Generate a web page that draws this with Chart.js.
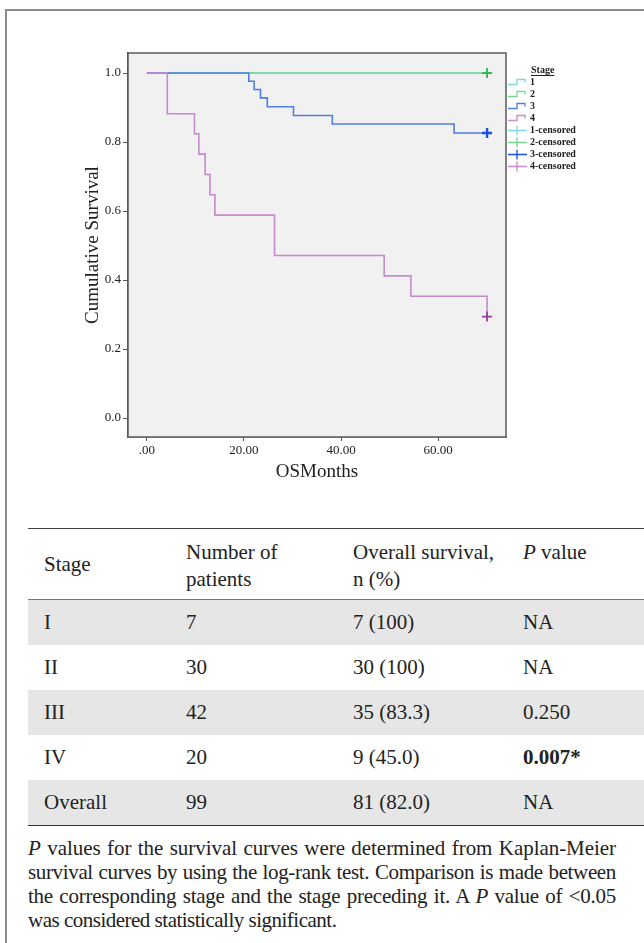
<!DOCTYPE html>
<html>
<head>
<meta charset="utf-8">
<script src="https://cdn.jsdelivr.net/npm/chart.js@4.4.1/dist/chart.umd.min.js"></script>
<style>
body { margin: 0; background: #fff; font-family: 'Liberation Serif', 'Times New Roman', serif; color: #222; }
#frame { position: absolute; left: 5px; top: 9px; width: 700px; height: 1000px;
         border-left: 2px solid #8c8c8c; border-top: 2px solid #8c8c8c; }
#km { position: absolute; left: 0; top: 0; }
table { position: absolute; left: 28px; top: 528px; width: 616px; border-collapse: collapse;
        font-size: 21px; table-layout: fixed; }
thead tr { border-top: 1.5px solid #444; border-bottom: 1px solid #777; }
tbody tr:last-child { border-bottom: 1.5px solid #333; }
th { font-weight: normal; text-align: left; padding: 10px 0 0 16px; vertical-align: top;
     height: 60px; line-height: 27px; }
th.mid { vertical-align: middle; padding-top: 0; }
td { height: 45px; padding: 0 0 0 16px; vertical-align: middle; }
tr.shade td { background: #e6e6e6; }
#note { position: absolute; left: 28px; top: 836px; width: 588px; font-size: 21px; line-height: 24px; }
#note div { text-align: justify; text-align-last: justify; white-space: nowrap; }
#note div.last { text-align-last: left; }
</style>
</head>
<body>
<div id="frame"></div>
<canvas id="km" width="644" height="500"></canvas>

<table>
  <colgroup><col style="width:142px"><col style="width:167px"><col style="width:170px"><col style="width:137px"></colgroup>
  <thead id="thead"></thead>
  <tbody id="tbody"></tbody>
</table>

<div id="note">
  <div style="letter-spacing:-0.05px"><i>P</i> values for the survival curves were determined from Kaplan-Meier</div>
  <div style="letter-spacing:-0.35px; word-spacing:-1px">survival curves by using the log-rank test. Comparison is made between</div>
  <div style="letter-spacing:-0.25px; word-spacing:-1px">the corresponding stage and the stage preceding it. A <i>P</i> value of &lt;0.05</div>
  <div class="last" style="letter-spacing:-0.5px">was considered statistically significant.</div>
</div>

<script>
// Kaplan-Meier steps (time of drop, survival after drop)
var stage1Months = [0, 70.1];
var stage1Surv   = [1.0, 1.0];
var stage2Months = [0, 70.1];
var stage2Surv   = [1.0, 1.0];
var stage3Months = [0, 21.0, 22.1, 23.4, 24.8, 30.2, 38.2, 63.3, 70.1];
var stage3Surv   = [1.0, 0.976, 0.952, 0.928, 0.902, 0.877, 0.852, 0.826, 0.826];
var stage4Months = [0, 4.2, 9.8, 10.7, 12.0, 13.0, 14.0, 26.3, 48.9, 54.4, 70.1];
var stage4Surv   = [1.0, 0.882, 0.824, 0.765, 0.706, 0.647, 0.588, 0.471, 0.412, 0.353, 0.294];

// censored observations (the + marks)
var censorMonths = [70.1, 70.1, 70.1, 70.1];
var censorSurv   = [1.0, 1.0, 0.826, 0.294];

var stageLabels  = ['1', '2', '3', '4'];
var censorLabels = ['1-censored', '2-censored', '3-censored', '4-censored'];
var lineColors   = ['#7fd6e2', '#7ad690', '#4f7fe2', '#c58bca'];
var markColors   = ['#5fc8d8', '#33b653', '#1d4fe0', '#9a3d9c'];

var xTicks = [0, 20, 40, 60];
var yTicks = [0, 0.2, 0.4, 0.6, 0.8, 1.0];

// table
var tableHead = ['Stage', 'Number of<br>patients', 'Overall survival,<br>n (%)', '<i>P</i> value'];
var tStage    = ['I', 'II', 'III', 'IV', 'Overall'];
var tPatients = ['7', '30', '42', '20', '99'];
var tSurvival = ['7 (100)', '30 (100)', '35 (83.3)', '9 (45.0)', '81 (82.0)'];
var tPvalue   = ['NA', 'NA', '0.250', '<b>0.007*</b>', 'NA'];

var head = '<tr>';
tableHead.forEach(function(h, i) {
    head += '<th' + (i == 0 ? ' class="mid"' : '') + '>' + h + '</th>';
});
document.getElementById('thead').innerHTML = head + '</tr>';
var body = '';
for (var i = 0; i < tStage.length; i++) {
    body += '<tr' + (i % 2 == 0 ? ' class="shade"' : '') + '><td>' + tStage[i] + '</td><td>' + tPatients[i] +
            '</td><td>' + tSurvival[i] + '</td><td>' + tPvalue[i] + '</td></tr>';
}
document.getElementById('tbody').innerHTML = body;

function pts(xs, ys) {
    return xs.map(function(x, i) { return {x: x, y: ys[i]}; });
}

var serif = "'Liberation Serif', 'Times New Roman', serif";
var curves = [[stage1Months, stage1Surv], [stage2Months, stage2Surv], [stage3Months, stage3Surv], [stage4Months, stage4Surv]];
var datasets = [];
curves.forEach(function(c, i) {
    datasets.push({
        label: stageLabels[i],
        data: pts(c[0], c[1]),
        showLine: true,
        stepped: true,
        borderColor: lineColors[i],
        borderWidth: 1.6,
        pointRadius: 0,
        order: 8 - i
    });
});
censorMonths.forEach(function(m, i) {
    datasets.push({
        label: censorLabels[i],
        data: [{x: m, y: censorSurv[i]}],
        showLine: false,
        pointStyle: 'cross',
        pointRadius: 5,
        borderWidth: i == 2 ? 2.4 : 1.8,
        borderColor: markColors[i],
        backgroundColor: markColors[i],
        order: 4 - i
    });
});

var plotFrame = {
    id: 'plotFrame',
    beforeDatasetsDraw: function(chart) {
        var a = chart.chartArea, ctx = chart.ctx;
        ctx.save();
        ctx.fillStyle = '#f1f1f1';
        ctx.fillRect(a.left, a.top, a.right - a.left, a.bottom - a.top);
        ctx.restore();
    },
    afterDraw: function(chart) {
        var a = chart.chartArea, ctx = chart.ctx;
        ctx.save();
        ctx.strokeStyle = '#5a5a5a';
        ctx.lineWidth = 1.5;
        ctx.strokeRect(a.left, a.top, a.right - a.left, a.bottom - a.top);

        // legend
        ctx.fillStyle = '#222';
        ctx.textBaseline = 'middle';
        ctx.font = 'bold 10px ' + serif;
        ctx.fillText('Stage', 531, 70);
        ctx.fillRect(531, 75, ctx.measureText('Stage').width, 1);
        var names = stageLabels.concat(censorLabels);
        names.forEach(function(n, i) {
            var y = 82.5 + i * 12;
            ctx.fillStyle = '#222';
            ctx.fillText(n, 530, y);
            ctx.lineWidth = 1.3;
            ctx.beginPath();
            if (i < 4) {
                ctx.strokeStyle = lineColors[i];
                ctx.moveTo(508, y + 2);
                ctx.lineTo(517, y + 2);
                ctx.lineTo(517, y - 3);
                ctx.lineTo(525, y - 3);
                ctx.lineTo(525, y);
            } else {
                ctx.strokeStyle = i == 6 ? markColors[2] : lineColors[i - 4];
                ctx.moveTo(508, y);
                ctx.lineTo(527, y);
                ctx.moveTo(517, y - 5);
                ctx.lineTo(517, y + 5);
            }
            ctx.stroke();
        });
        ctx.restore();
    }
};

new Chart(document.getElementById('km').getContext('2d'), {
    type: 'scatter',
    data: { datasets: datasets },
    options: {
        responsive: false,
        animation: false,
        layout: { padding: { top: 53, right: 138, left: 0, bottom: 0 } },
        plugins: { legend: { display: false }, tooltip: { enabled: false } },
        scales: {
            x: {
                type: 'linear',
                min: -3.9,
                max: 74,
                afterBuildTicks: function(s) { s.ticks = xTicks.map(function(v) { return {value: v}; }); },
                afterFit: function(s) { s.height = 63; },
                grid: { drawOnChartArea: false, drawTicks: true, tickLength: 4, color: '#555', lineWidth: 1 },
                border: { display: true, color: '#5a5a5a', width: 1.5 },
                ticks: {
                    padding: 2,
                    color: '#222',
                    font: { family: serif, size: 13 },
                    callback: function(v) { return v == 0 ? '.00' : v.toFixed(2); }
                },
                title: {
                    display: true,
                    text: 'OSMonths',
                    color: '#222',
                    font: { family: serif, size: 19 },
                    padding: { top: 0, bottom: 17 }
                }
            },
            y: {
                type: 'linear',
                min: -0.055,
                max: 1.058,
                afterBuildTicks: function(s) { s.ticks = yTicks.map(function(v) { return {value: v}; }); },
                afterFit: function(s) { s.width = 128; },
                grid: { drawOnChartArea: false, drawTicks: true, tickLength: 5, color: '#555', lineWidth: 1 },
                border: { display: true, color: '#5a5a5a', width: 1.5 },
                ticks: {
                    padding: 2,
                    color: '#222',
                    font: { family: serif, size: 13 },
                    callback: function(v) { return v.toFixed(1); }
                },
                title: {
                    display: true,
                    text: 'Cumulative Survival',
                    color: '#222',
                    font: { family: serif, size: 19 },
                    padding: { top: 82, bottom: 0 }
                }
            }
        }
    },
    plugins: [plotFrame]
});
</script>
</body>
</html>
